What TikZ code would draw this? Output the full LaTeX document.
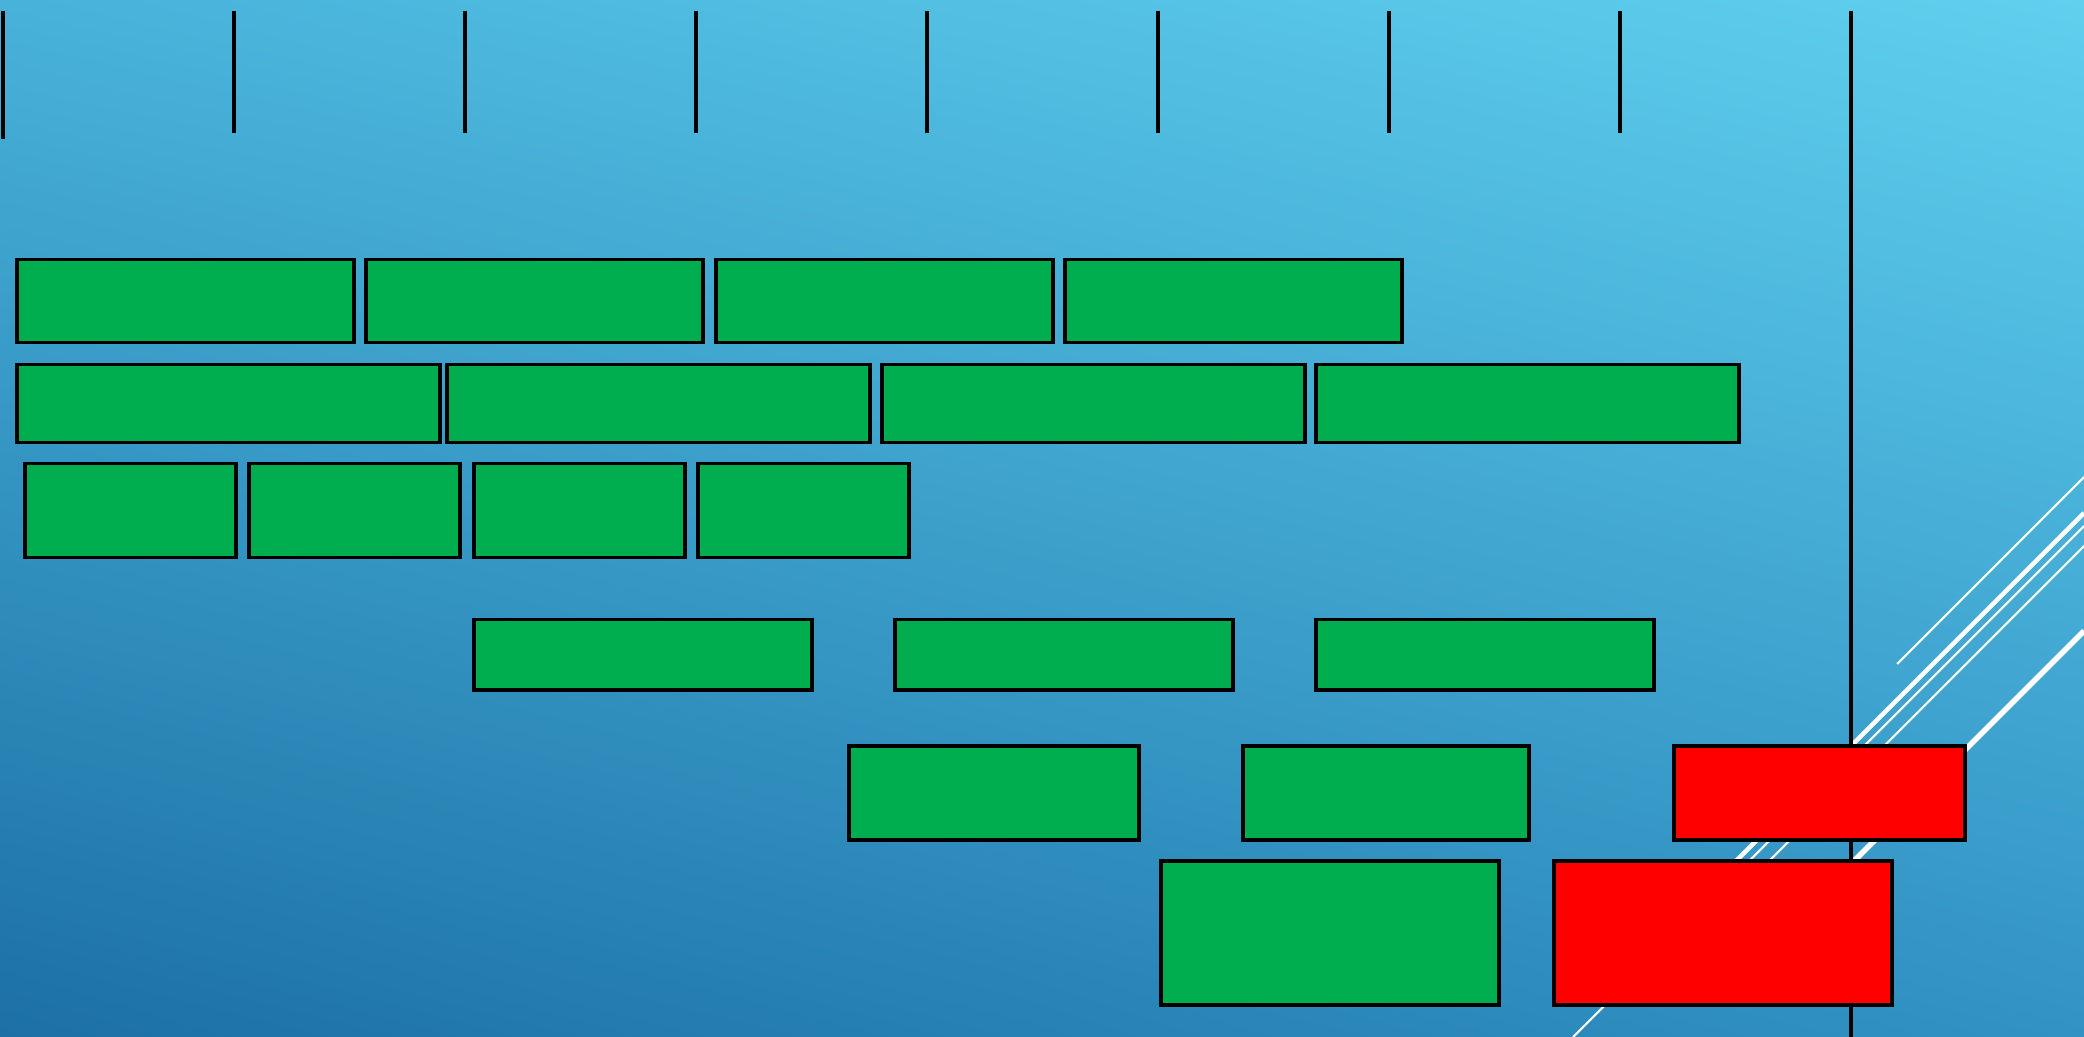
\documentclass[tikz,border=0pt]{standalone}
\usepackage{xcolor}
\usetikzlibrary{shadings}

\definecolor{bgtopl}{RGB}{72,178,218}
\definecolor{bgtopr}{RGB}{95,208,238}
\definecolor{bgbotl}{RGB}{28,112,164}
\definecolor{bgbotr}{RGB}{50,146,196}
\definecolor{ontime}{RGB}{0,174,80}
\definecolor{overdue}{RGB}{255,0,0}

\tikzset{
  task/.style={draw, line width=1pt, fill=ontime, inner sep=0pt, anchor=north west},
  latetask/.style={task, fill=overdue},
  scaleline/.style={line width=1pt},
  slice/.style={white, line width=0.6pt},
  slicethick/.style={white, line width=1.3pt}
}

\begin{document}
\begin{tikzpicture}
  % Background
  \useasboundingbox (0,0) rectangle (20.84,10.37);
  \shade[upper left=bgtopl, upper right=bgtopr, lower left=bgbotl, lower right=bgbotr] (0,0) rectangle (20.84,10.37);

  % White slices, bottom right
  \draw[slice] (18.97,3.73) -- (20.84,5.60);
  \draw[slicethick] (16.80,1.20) -- (20.84,5.24);
  \draw[slice] (15.73,0) -- (20.84,5.11);
  \draw[slice] (17.13,1.20) -- (20.84,4.91);
  \draw[slicethick, line width=1.6pt] (17.78,1.00) -- (20.84,4.06);

  % Time scale
  \draw[scaleline] (0.03,10.26) -- (0.03,8.98)
                   (2.34,10.26) -- (2.34,9.04)
                   (4.65,10.26) -- (4.65,9.04)
                   (6.96,10.26) -- (6.96,9.04)
                   (9.27,10.26) -- (9.27,9.04)
                   (11.58,10.26) -- (11.58,9.04)
                   (13.89,10.26) -- (13.89,9.04)
                   (16.20,10.26) -- (16.20,9.04);
  \draw[scaleline] (18.51,10.26) -- (18.51,0);

  % Row 1
  \node[task, minimum width=3.37cm, minimum height=0.83cm] (a1) at (0.15,7.79) {};
  \node[task, minimum width=3.37cm, minimum height=0.83cm] (a2) at (3.64,7.79) {};
  \node[task, minimum width=3.37cm, minimum height=0.83cm] (a3) at (7.14,7.79) {};
  \node[task, minimum width=3.37cm, minimum height=0.83cm] (a4) at (10.63,7.79) {};

  % Row 2
  \node[task, minimum width=4.23cm, minimum height=0.78cm] (b1) at (0.15,6.74) {};
  \node[task, minimum width=4.23cm, minimum height=0.78cm] (b2) at (4.45,6.74) {};
  \node[task, minimum width=4.23cm, minimum height=0.78cm] (b3) at (8.80,6.74) {};
  \node[task, minimum width=4.23cm, minimum height=0.78cm] (b4) at (13.14,6.74) {};

  % Row 3
  \node[task, minimum width=2.11cm, minimum height=0.94cm] (c1) at (0.23,5.75) {};
  \node[task, minimum width=2.11cm, minimum height=0.94cm] (c2) at (2.47,5.75) {};
  \node[task, minimum width=2.11cm, minimum height=0.94cm] (c3) at (4.72,5.75) {};
  \node[task, minimum width=2.11cm, minimum height=0.94cm] (c4) at (6.96,5.75) {};

  % Row 4
  \node[task, minimum width=3.38cm, minimum height=0.70cm] (d1) at (4.72,4.19) {};
  \node[task, minimum width=3.38cm, minimum height=0.70cm] (d2) at (8.93,4.19) {};
  \node[task, minimum width=3.38cm, minimum height=0.70cm] (d3) at (13.14,4.19) {};

  % Row 5
  \node[task, minimum width=2.90cm, minimum height=0.94cm] (e1) at (8.47,2.93) {};
  \node[task, minimum width=2.86cm, minimum height=0.94cm] (e2) at (12.41,2.93) {};
  \node[latetask, minimum width=2.91cm, minimum height=0.94cm] (e3) at (16.72,2.93) {};

  % Row 6
  \node[task, minimum width=3.38cm, minimum height=1.44cm] (f1) at (11.59,1.78) {};
  \node[latetask, minimum width=3.38cm, minimum height=1.44cm] (f2) at (15.52,1.78) {};
\end{tikzpicture}
\end{document}
